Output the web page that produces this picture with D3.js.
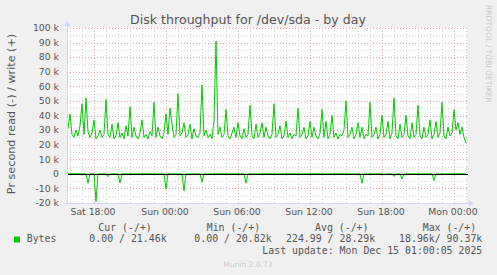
<!DOCTYPE html>
<html>
<head>
<meta charset="utf-8">
<script src="https://cdn.jsdelivr.net/npm/d3@7"></script>
<style>
  html, body { margin: 0; padding: 0; background: #f0f0f0; }
  svg { display: block; }
  text { font-family: "DejaVu Sans", sans-serif; fill: #555; }
  .mono { font-family: "DejaVu Sans Mono", monospace; font-size: 9.9px; }
</style>
</head>
<body>
<svg id="chart" width="497" height="275"></svg>
<script>
// samples every 10 minutes, first one Sat 13 Dec 2025 15:50
var START = new Date(2025, 11, 13, 15, 50);
var STEP_MIN = 10;

// write bytes/s (thousands)
var writeK = [
  31, 41, 27, 25, 30, 26, 33, 48, 27, 52, 29, 25, 28, 37, 24, 26, 30, 25, 27, 51,
  27, 25, 34, 24, 26, 35, 25, 28, 24, 33, 26, 46, 25, 32, 26, 24, 28, 37, 25, 27,
  24, 29, 26, 49, 25, 32, 26, 24, 28, 41, 27, 45, 34, 25, 27, 55, 26, 28, 35, 25,
  27, 34, 24, 31, 26, 25, 28, 61, 26, 30, 25, 27, 24, 37, 91, 27, 32, 25, 27, 44,
  26, 24, 28, 32, 25, 35, 26, 24, 31, 25, 27, 47, 26, 24, 34, 25, 28, 35, 25, 32,
  26, 24, 27, 48, 25, 27, 33, 24, 26, 36, 25, 28, 24, 27, 26, 45, 25, 27, 32, 24,
  26, 36, 25, 32, 26, 24, 28, 44, 25, 36, 24, 27, 40, 25, 28, 24, 27, 26, 30, 50,
  25, 27, 32, 24, 27, 35, 25, 32, 24, 27, 26, 49, 25, 27, 32, 24, 27, 40, 25, 27,
  36, 24, 28, 52, 26, 24, 34, 25, 27, 40, 26, 24, 35, 25, 27, 47, 26, 24, 32, 25,
  27, 37, 24, 27, 36, 25, 28, 49, 26, 24, 32, 26, 28, 44, 30, 35, 27, 32, 25, 21
];

// read bytes/s (thousands), drawn below zero
var readK = [
  0, 0, 0, 0, 0, 0, 0, 0, 0, 0, 6.4, 0, 0, 0, 19, 0, 0, 0, 0, 0,
  2, 0, 0, 0, 0, 0, 6.2, 0, 0, 0, 0, 0, 0, 0, 0, 0, 0, 0, 0, 0,
  0, 0, 0, 0, 0, 0, 0, 0, 0, 10.5, 0, 0, 0, 0, 0, 0, 0, 0, 11.7, 0,
  0, 0, 0, 0, 0, 0, 0, 5.7, 0, 0, 0, 0, 0, 0, 0, 0, 0, 0, 0, 0,
  0, 0, 0, 0, 0, 0, 0, 0, 0, 6.4, 0, 0, 0, 0, 0, 0, 0, 0, 0, 0,
  0, 0, 0, 0, 0, 0, 0, 0, 0, 0, 0, 0, 0, 0, 0, 0, 0, 0, 0, 0,
  0, 0, 0, 0, 0, 0, 0, 0, 0, 0, 0, 0, 0, 0, 0, 0, 0, 0, 0, 0,
  0, 0, 0, 0, 0, 0, 0, 6.4, 0, 0, 0, 0, 0, 0, 0, 0, 0, 0, 0.5, 0,
  0, 0, 0, 1.8, 0, 0, 0, 3.6, 0, 0, 0, 0, 0, 0, 0, 0, 0, 0, 0, 0,
  0, 0, 0, 4.5, 0, 0, 0, 0, 0, 0, 0, 0, 0, 0, 0, 0, 0, 0, 0, 0
];

var yTicks = [-20, -10, 0, 10, 20, 30, 40, 50, 60, 70, 80, 90, 100];
var xTickFormat = "%a %H:%M";

var legendHeads = ["Cur (-/+)", "Min (-/+)", "Avg (-/+)", "Max (-/+)"];
var legendVals = ["0.00 / 21.46k", "0.00 / 20.82k", "224.99 / 28.29k", "18.96k/ 90.37k"];
var seriesName = "Bytes";
var lastUpdate = "Last update: Mon Dec 15 01:00:05 2025";

var GREEN = "#00cc00";

var svg = d3.select("#chart");
var pLeft = 67, pRight = 467, pTop = 28, pBottom = 203;

var x = d3.scaleTime()
    .domain([new Date(2025, 11, 13, 15, 45), new Date(2025, 11, 15, 1, 5)])
    .range([pLeft, pRight]);
var y = d3.scaleLinear().domain([-20, 100]).range([pBottom, pTop]);

var timeOf = function(i) { return new Date(START.getTime() + i * STEP_MIN * 60000); };

svg.append("rect")
    .attr("x", pLeft).attr("y", pTop)
    .attr("width", pRight - pLeft).attr("height", pBottom - pTop)
    .attr("fill", "#fff");

// minor grid
svg.append("g").selectAll("line")
    .data(x.ticks(d3.timeHour.every(1)))
    .enter().append("line")
    .attr("x1", function(d) { return Math.round(x(d)) + 0.5; })
    .attr("x2", function(d) { return Math.round(x(d)) + 0.5; })
    .attr("y1", pTop).attr("y2", pBottom)
    .attr("stroke", "#d2d2d2").attr("stroke-dasharray", "1,2");
svg.append("g").selectAll("line")
    .data(d3.range(-20, 101, 5))
    .enter().append("line")
    .attr("x1", pLeft).attr("x2", pRight)
    .attr("y1", function(d) { return Math.round(y(d)) + 0.5; })
    .attr("y2", function(d) { return Math.round(y(d)) + 0.5; })
    .attr("stroke", "#d2d2d2").attr("stroke-dasharray", "1,2");

// major grid
var majorX = x.ticks(d3.timeHour.every(6));
svg.append("g").selectAll("line")
    .data(majorX)
    .enter().append("line")
    .attr("x1", function(d) { return Math.round(x(d)) + 0.5; })
    .attr("x2", function(d) { return Math.round(x(d)) + 0.5; })
    .attr("y1", pTop).attr("y2", pBottom)
    .attr("stroke", "#e9a8a8").attr("stroke-dasharray", "1,2");
svg.append("g").selectAll("line")
    .data(yTicks)
    .enter().append("line")
    .attr("x1", pLeft).attr("x2", pRight)
    .attr("y1", function(d) { return Math.round(y(d)) + 0.5; })
    .attr("y2", function(d) { return Math.round(y(d)) + 0.5; })
    .attr("stroke", "#e9a8a8").attr("stroke-dasharray", "1,2");

var line = d3.line()
    .x(function(d, i) { return x(timeOf(i)); })
    .y(function(d) { return y(d); });

svg.append("path")
    .attr("d", line(readK.map(function(v) { return -v; })))
    .attr("fill", "none").attr("stroke", GREEN).attr("stroke-width", 1);
svg.append("path")
    .attr("d", line(writeK))
    .attr("fill", "none").attr("stroke", GREEN).attr("stroke-width", 1);

// zero line
svg.append("line")
    .attr("x1", pLeft).attr("x2", pRight + 1)
    .attr("y1", Math.round(y(0)) + 0.5).attr("y2", Math.round(y(0)) + 0.5)
    .attr("stroke", "#000");

// axes
svg.append("line")
    .attr("x1", pLeft + 0.5).attr("x2", pLeft + 0.5)
    .attr("y1", pTop - 3).attr("y2", pBottom + 1)
    .attr("stroke", "#cfd6f8");
svg.append("path")
    .attr("d", "M" + (pLeft - 2.5) + "," + (pTop - 2) + "L" + (pLeft + 3.5) + "," + (pTop - 2) + "L" + (pLeft + 0.5) + "," + (pTop - 7) + "Z")
    .attr("fill", "#cfd6f8");
svg.append("line")
    .attr("x1", pLeft - 2).attr("x2", pRight + 3)
    .attr("y1", pBottom + 0.5).attr("y2", pBottom + 0.5)
    .attr("stroke", "#cfd6f8");
svg.append("path")
    .attr("d", "M" + (pRight + 2) + "," + (pBottom - 2.5) + "L" + (pRight + 2) + "," + (pBottom + 3.5) + "L" + (pRight + 7) + "," + (pBottom + 0.5) + "Z")
    .attr("fill", "#cfd6f8");

// y labels
svg.append("g").selectAll("text")
    .data(yTicks)
    .enter().append("text")
    .attr("x", 59)
    .attr("y", function(d) { return y(d) + 3.3; })
    .attr("text-anchor", "end")
    .style("font-size", "9.3px")
    .text(function(d) { return d === 0 ? "0" : d + " k"; });

// x labels
var fmt = d3.timeFormat(xTickFormat);
svg.append("g").selectAll("text")
    .data(majorX)
    .enter().append("text")
    .attr("x", function(d) { return x(d) - 1; })
    .attr("y", 215)
    .attr("text-anchor", "middle")
    .style("font-size", "9.3px")
    .text(function(d) { return fmt(d); });

svg.append("text")
    .attr("x", 248).attr("y", 24)
    .attr("text-anchor", "middle")
    .style("font-size", "12.6px")
    .text("Disk throughput for /dev/sda - by day");

svg.append("text")
    .attr("transform", "translate(15,114) rotate(-90)")
    .attr("text-anchor", "middle")
    .style("font-size", "11.2px")
    .text("Pr second read (-) / write (+)");

svg.append("text")
    .attr("transform", "translate(486,5) rotate(90)")
    .attr("text-anchor", "start")
    .style("font-size", "7.6px")
    .style("fill", "#c8c8c8")
    .text("RRDTOOL / TOBI OETIKER");

// legend
var headX = [98.3, 206.7, 315, 422.7];
var valX = [89.3, 194.3, 286, 482.3];
svg.append("g").selectAll("text")
    .data(legendHeads)
    .enter().append("text")
    .attr("class", "mono")
    .attr("x", function(d, i) { return headX[i]; })
    .attr("y", 230.5)
    .text(function(d) { return d; });
svg.append("rect")
    .attr("x", 14).attr("y", 236.5).attr("width", 6).attr("height", 6)
    .attr("fill", GREEN);
svg.append("text")
    .attr("class", "mono")
    .attr("x", 26.7).attr("y", 242)
    .text(seriesName);
svg.append("g").selectAll("text")
    .data(legendVals)
    .enter().append("text")
    .attr("class", "mono")
    .attr("x", function(d, i) { return valX[i]; })
    .attr("y", 242)
    .attr("text-anchor", function(d, i) { return i === 3 ? "end" : "start"; })
    .text(function(d) { return d; });
svg.append("text")
    .attr("class", "mono")
    .attr("x", 482.3).attr("y", 253.5)
    .attr("text-anchor", "end")
    .text(lastUpdate);

svg.append("text")
    .attr("x", 248).attr("y", 267)
    .attr("text-anchor", "middle")
    .style("font-size", "7.5px")
    .style("fill", "#c8c8c8")
    .text("Munin 2.0.73");
</script>
</body>
</html>
